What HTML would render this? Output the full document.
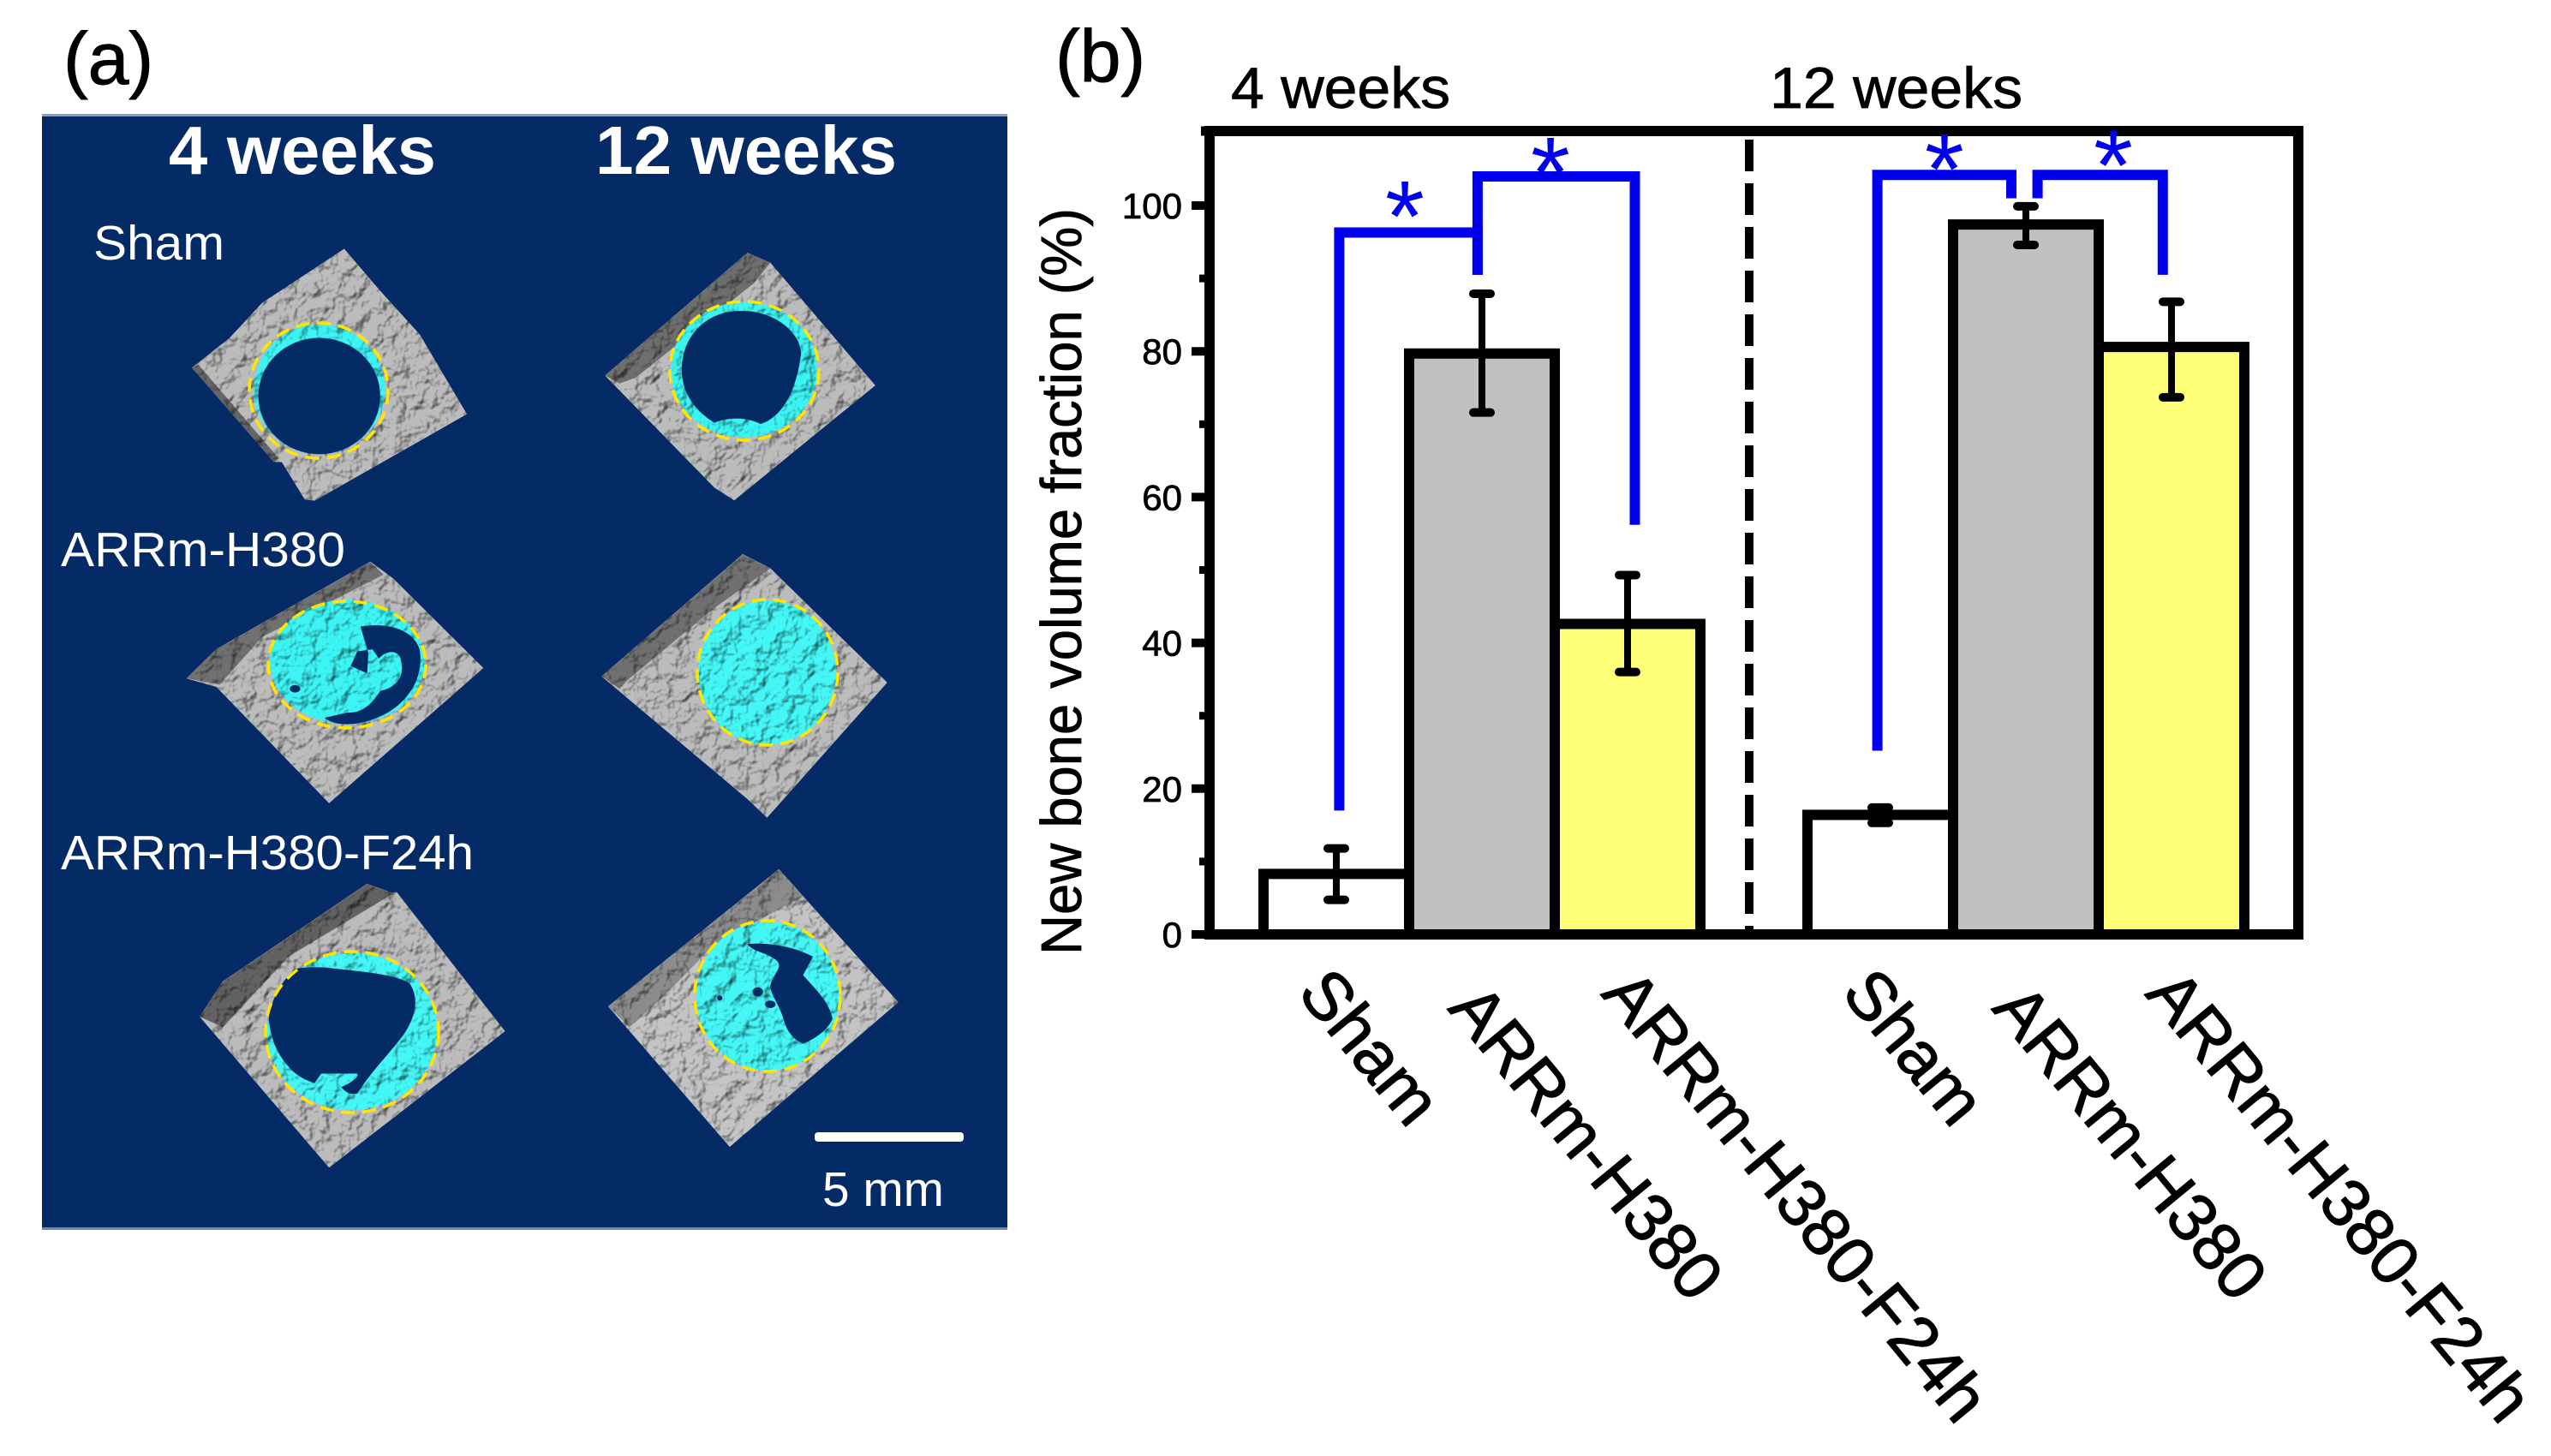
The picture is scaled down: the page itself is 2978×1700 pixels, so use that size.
<!DOCTYPE html>
<html lang="en">
<head>
<meta charset="utf-8">
<title>New bone volume fraction</title>
<style>
html,body{margin:0;padding:0;background:#fff;}
svg{display:block;font-family:"Liberation Sans",sans-serif;}
</style>
</head>
<body>
<svg id="fig" xmlns="http://www.w3.org/2000/svg" width="2978" height="1700" viewBox="0 0 2978 1700">
  <defs>
    <filter id="bone" filterUnits="userSpaceOnUse" x="40" y="130" width="1140" height="1310" color-interpolation-filters="sRGB">
      <feTurbulence type="fractalNoise" baseFrequency="0.055" numOctaves="3" seed="7" result="n"/>
      <feDiffuseLighting in="n" surfaceScale="5" diffuseConstant="1.15" lighting-color="#ffffff" result="l">
        <feDistantLight azimuth="225" elevation="62"/>
      </feDiffuseLighting>
      <feComposite in="l" in2="SourceAlpha" operator="in" result="t"/>
      <feBlend in="t" in2="SourceGraphic" mode="multiply"/>
    </filter>
  </defs>

  <rect width="2978" height="1700" fill="#ffffff"/>
  <text x="74" y="98" font-size="86" fill="#000" stroke="#000" stroke-width="1">(a)</text>
  <text x="1232" y="95" font-size="86" fill="#000" stroke="#000" stroke-width="1">(b)</text>

  <g>
    <rect x="49" y="135" width="1127" height="1301" fill="#042b66"/>
    <rect x="49" y="133" width="1127" height="3" fill="#8b9dc0"/>
    <rect x="49" y="1433" width="1127" height="3" fill="#6f86b0"/>

    <g filter="url(#bone)">
      <g transform="matrix(.7653,0,0,.4592,0,0)">
        <path d="M525,633 L580,740 640,850 712,1053 480,1273 465,1270 430,1175 420,1175 293,935 350,860 400,770Z" fill="#bcbcbc"/>
        <path d="M293,935 303,928 425,1165 418,1175Z" fill="#666"/>
        <ellipse cx="487" cy="990" rx="100" ry="165" fill="#3cf4f4"/>
        <path d="M1140,643 1175,668 1335,980 1120,1272 1090,1240 923,955Z" fill="#bcbcbc"/>
        <path d="M923,955 1140,643 1175,668 1150,720 970,960 945,975Z" fill="#6e6e6e"/>
        <ellipse cx="1135" cy="940" rx="112" ry="172" fill="#3cf4f4"/>
      </g>
      <g transform="matrix(.7653,0,0,.4847,0,700)">
        <path d="M565,-91 600,-50 737,165 502,490 330,210 285,190 330,120Z" fill="#bcbcbc"/>
        <path d="M285,190 330,120 565,-91 585,-60 400,90 335,205Z" fill="#707070"/>
        <ellipse cx="530" cy="150" rx="118" ry="150" fill="#3cf4f4"/>
        <path d="M1133,-109 1175,-75 1353,200 1170,525 1140,480 918,185Z" fill="#bcbcbc"/>
        <path d="M918,185 1133,-109 1175,-75 1090,20 960,190 945,215Z" fill="#707070"/>
        <ellipse cx="1170" cy="176" rx="105" ry="174" fill="#44f6f6"/>
        <path d="M560,685 590,710 605,705 770,1040 502,1368 305,1005 340,920Z" fill="#bcbcbc"/>
        <path d="M305,1005 340,920 560,685 600,708 440,860 340,1030Z" fill="#626262"/>
        <ellipse cx="537" cy="1040" rx="130" ry="190" fill="#44f6f6"/>
        <path d="M1188,650 1370,970 1113,1318 928,980Z" fill="#c4c4c4"/>
        <path d="M928,980 1188,650 1225,715 1090,830 1010,960 960,1030Z" fill="#8c8c8c"/>
        <ellipse cx="1171" cy="955" rx="109" ry="180" fill="#44f6f6"/>
      </g>
    </g>

    <g fill="#042b66">
      <g transform="matrix(.7653,0,0,.4592,0,0)">
        <ellipse cx="487" cy="1007" rx="93" ry="148"/>
        <path d="M1130,790 C1185,790 1222,850 1222,900 C1215,990 1195,1060 1160,1078 C1140,1060 1110,1060 1090,1075 C1055,1040 1040,990 1040,940 C1040,850 1080,790 1130,790Z"/>
      </g>
      <g transform="matrix(.7653,0,0,.4847,0,700)">
        <path d="M550,65 C590,55 630,70 640,120 C648,190 620,260 570,288 C540,305 510,305 495,285 L530,272 C555,275 570,245 580,220 C600,215 618,190 612,150 C610,120 590,120 578,142 L568,120 L545,125 L535,160 L560,178 L562,130 Z"/>
        <ellipse cx="450" cy="215" rx="8" ry="9"/>
        <path d="M450,890 C480,880 510,890 530,892 C570,900 605,905 625,925 C640,960 635,1010 610,1060 C590,1100 565,1140 545,1190 C530,1195 525,1180 520,1175 C535,1165 548,1150 545,1142 L490,1142 480,1165 C465,1158 450,1145 440,1125 C420,1090 412,1050 410,1010 C412,975 425,925 450,890Z"/>
        <path d="M1140,830 C1170,825 1210,835 1240,860 L1225,905 C1245,940 1265,970 1270,1010 C1262,1040 1240,1060 1225,1070 C1210,1060 1200,1040 1195,1010 C1190,980 1175,950 1175,930 C1180,900 1195,885 1185,870 C1170,850 1150,850 1140,830Z"/>
        <ellipse cx="1156" cy="945" rx="8" ry="11"/>
        <ellipse cx="1175" cy="975" rx="8" ry="9"/>
        <ellipse cx="1098" cy="960" rx="4" ry="6"/>
      </g>
    </g>

    <g fill="none" stroke="#ffe600" stroke-width="3.5" stroke-dasharray="16 9">
      <ellipse cx="372" cy="456" rx="81" ry="79"/>
      <ellipse cx="869" cy="433" rx="87" ry="81"/>
      <ellipse cx="405" cy="776" rx="92" ry="74"/>
      <ellipse cx="896" cy="785" rx="82" ry="85"/>
      <ellipse cx="411" cy="1205" rx="101" ry="94"/>
      <ellipse cx="896" cy="1163" rx="85" ry="88"/>
    </g>

    <g fill="#ffffff">
      <text x="197" y="203" font-size="80" font-weight="bold" textLength="312" lengthAdjust="spacingAndGlyphs">4 weeks</text>
      <text x="695" y="203" font-size="80" font-weight="bold" textLength="352" lengthAdjust="spacingAndGlyphs">12 weeks</text>
      <text x="109" y="303" font-size="57" textLength="153" lengthAdjust="spacingAndGlyphs">Sham</text>
      <text x="71" y="661" font-size="57" textLength="332" lengthAdjust="spacingAndGlyphs">ARRm-H380</text>
      <text x="71" y="1015" font-size="57" textLength="482" lengthAdjust="spacingAndGlyphs">ARRm-H380-F24h</text>
      <rect x="951" y="1322" width="174" height="11" rx="4"/>
      <text x="960" y="1408" font-size="57" textLength="142" lengthAdjust="spacingAndGlyphs">5 mm</text>
    </g>
  </g>

  <g id="chart"></g>
</svg>

<script>
const categories = ['Sham', 'ARRm-H380', 'ARRm-H380-F24h', 'Sham', 'ARRm-H380', 'ARRm-H380-F24h'];
const barValues = [8.3, 79.7, 42.6, 16.4, 97.4, 80.6];
const errorUpper = [11.8, 87.9, 49.3, 17.4, 99.9, 86.8];
const errorLower = [4.75, 71.6, 36, 15.3, 94.6, 73.7];
const barColors = ['#ffffff', '#c0c0c0', '#ffff78', '#ffffff', '#c0c0c0', '#ffff78'];
const yTickLabels = [0, 20, 40, 60, 80, 100];
const yMinorTicks = [10, 30, 50, 70, 90];
const bracketLeftCat = [0.02, 0.97, 2.98, 4.08];
const bracketRightCat = [0.97, 2.05, 3.9, 4.94];
const bracketTop = [96.3, 104, 104.2, 104.2];
const bracketLeftEnd = [17, 90.5, 25.2, 101];
const bracketRightEnd = [90.5, 56.2, 101, 90.5];
const starCat = [0.47, 1.47, 3.44, 4.6];
const starValue = [101.5, 107.5, 108, 108.5];

const NS = 'http://www.w3.org/2000/svg';
const chart = document.getElementById('chart');
const xScale = c => 1560 + 170 * c + (c >= 2.5 ? 125 : 0);
const yScale = v => 1091 - 8.51 * v;

function make(tag, attrs, text) {
  const el = document.createElementNS(NS, tag);
  for (const k in attrs) el.setAttribute(k, attrs[k]);
  if (text !== undefined) el.textContent = text;
  chart.appendChild(el);
  return el;
}

barValues.forEach((v, i) => {
  const bar = make('rect', {x: xScale(i) - 85, y: yScale(v), width: 170, height: yScale(0) - yScale(v), fill: barColors[i], stroke: '#000', 'stroke-width': 12});
  
  
});

barValues.forEach((v, i) => {
  const x = xScale(i);
  const stem = make('line', {x1: x, x2: x, y1: yScale(errorUpper[i]), y2: yScale(errorLower[i]), stroke: '#000', 'stroke-width': 8});
  
  
  const capTop = make('line', {x1: x - 10, x2: x + 10, y1: yScale(errorUpper[i]), y2: yScale(errorUpper[i]), stroke: '#000', 'stroke-width': 10, 'stroke-linecap': 'round'});
  
  
  const capBottom = make('line', {x1: x - 10, x2: x + 10, y1: yScale(errorLower[i]), y2: yScale(errorLower[i]), stroke: '#000', 'stroke-width': 10, 'stroke-linecap': 'round'});
  
  
});

const divider = make('line', {x1: 2042, x2: 2042, y1: 163, y2: 1086, stroke: '#000', 'stroke-width': 10, 'stroke-dasharray': '37 14'});



const spines = make('rect', {x: 1412, y: 153, width: 1271, height: 938, fill: 'none', stroke: '#000', 'stroke-width': 12});



const topOverhang = make('line', {x1: 1402, x2: 1412, y1: 153, y2: 153, stroke: '#000', 'stroke-width': 11});



yTickLabels.forEach(v => {
  const tick = make('line', {x1: 1391, x2: 1412, y1: yScale(v), y2: yScale(v), stroke: '#000', 'stroke-width': 10});
  
  
  const label = make('text', {x: 1380, y: yScale(v) + 15, 'font-size': 42, 'text-anchor': 'end', fill: '#000', stroke: '#000', 'stroke-width': 0.8}, String(v));
  
  
});

yMinorTicks.forEach(v => {
  const tick = make('line', {x1: 1400, x2: 1412, y1: yScale(v), y2: yScale(v), stroke: '#000', 'stroke-width': 9});
  
  
});

bracketTop.forEach((top, i) => {
  const xa = xScale(bracketLeftCat[i]);
  const xb = xScale(bracketRightCat[i]);
  const path = make('path', {
    d: 'M' + xa + ',' + yScale(bracketLeftEnd[i]) + 'V' + yScale(top) + 'H' + xb + 'V' + yScale(bracketRightEnd[i]),
    fill: 'none', stroke: '#0000ee', 'stroke-width': 12, 'stroke-linejoin': 'miter'
  });
  
  
});

starCat.forEach((c, i) => {
  const star = make('text', {x: xScale(c), y: yScale(starValue[i]) + 66, 'font-size': 118, 'text-anchor': 'middle', fill: '#0000ee'}, '*');
  
  
});

const labelOffset = {'Sham': [-47, 1160], 'ARRm-H380': [-41, 1178], 'ARRm-H380-F24h': [-32, 1161]};
categories.forEach((name, i) => {
  const x = xScale(i) + labelOffset[name][0];
  const y = labelOffset[name][1];
  const label = make('text', {x: x, y: y, 'font-size': 79, fill: '#000', stroke: '#000', 'stroke-width': 1.2, transform: 'rotate(50.5 ' + x + ' ' + y + ')'}, name);
  
  
});

const yTitle = make('text', {x: 1262, y: 1115, 'font-size': 67, fill: '#000', stroke: '#000', 'stroke-width': 0.8, transform: 'rotate(-90 1262 1115)', textLength: 872, lengthAdjust: 'spacingAndGlyphs'}, 'New bone volume fraction (%)');



const group4 = make('text', {x: 1437, y: 126, 'font-size': 68, fill: '#000', stroke: '#000', 'stroke-width': 0.8, textLength: 256, lengthAdjust: 'spacingAndGlyphs'}, '4 weeks');



const group12 = make('text', {x: 2066, y: 126, 'font-size': 68, fill: '#000', stroke: '#000', 'stroke-width': 0.8, textLength: 295, lengthAdjust: 'spacingAndGlyphs'}, '12 weeks');


</script>
</body>
</html>
